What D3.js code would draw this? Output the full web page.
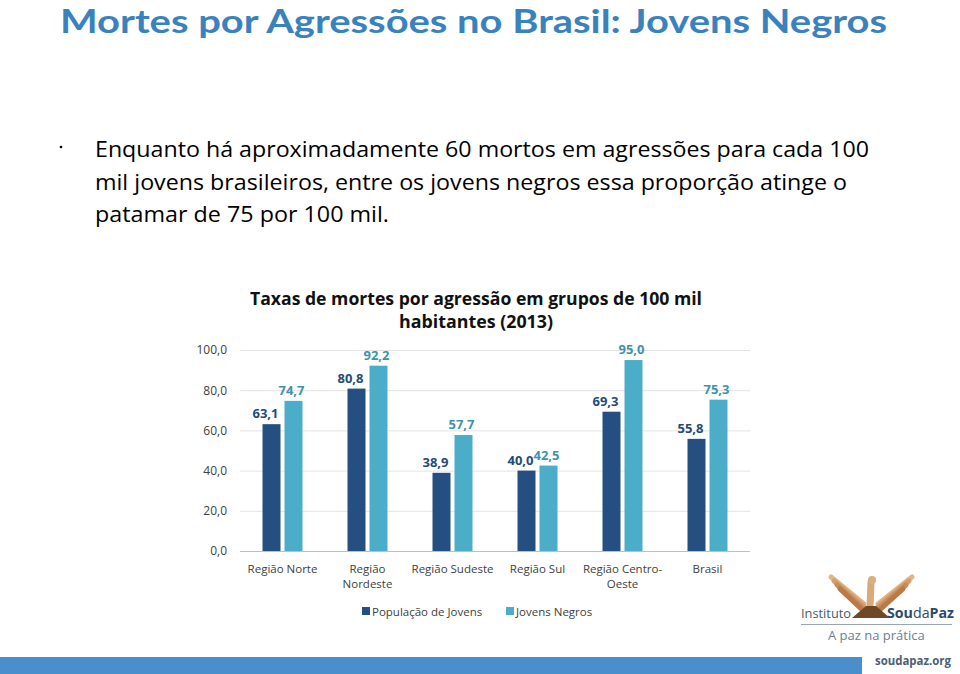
<!DOCTYPE html>
<html><head><meta charset="utf-8">
<script src="https://cdn.jsdelivr.net/npm/d3@7"></script>
<style>body{margin:0;background:#fff;}svg{display:block;}</style>
</head><body>
<script>
const categories = [["Região Norte"],["Região","Nordeste"],["Região Sudeste"],["Região Sul"],["Região Centro-","Oeste"],["Brasil"]];
const seriesNames = ["População de Jovens","Jovens Negros"];
const populacaoJovens = [63.1,80.8,38.9,40.0,69.3,55.8];
const jovensNegros = [74.7,92.2,57.7,42.5,95.0,75.3];
const yTicks = [0,20,40,60,80,100];

const W=960,H=674;
const svg=d3.select("body").append("svg").attr("width",W).attr("height",H);
const fmt=v=>v.toFixed(1).replace(".",",");

// Title
svg.append("text").attr("x",60).attr("y",33).attr("font-family","Lato, 'Open Sans', sans-serif")
 .attr("font-weight","bold").attr("font-size",32).attr("fill","#3a82be")
 .attr("textLength",827).attr("lengthAdjust","spacingAndGlyphs")
 .text("Mortes por Agressões no Brasil: Jovens Negros");

// Bullet text
svg.append("circle").attr("cx",61).attr("cy",147).attr("r",1.3).attr("fill","#000");
const lines=[["Enquanto há aproximadamente 60 mortos em agressões para cada 100",774],["mil jovens brasileiros, entre os jovens negros essa proporção atinge o",752],["patamar de 75 por 100 mil.",294]];
const baselines=[157,189.5,222];
lines.forEach((l,i)=>svg.append("text").attr("x",95).attr("y",baselines[i])
 .attr("font-family","'Open Sans', 'Noto Sans', sans-serif").attr("font-size",21).attr("fill","#000")
 .attr("textLength",l[1]).attr("lengthAdjust","spacingAndGlyphs").text(l[0]));

// Chart title
const ct=svg.append("text").attr("text-anchor","middle").attr("font-family","'Open Sans', sans-serif")
 .attr("font-weight","bold").attr("font-size",18).attr("fill","#111");
ct.append("tspan").attr("x",476).attr("y",305).attr("textLength",452).attr("lengthAdjust","spacingAndGlyphs").text("Taxas de mortes por agressão em grupos de 100 mil");
ct.append("tspan").attr("x",476).attr("y",327.5).attr("textLength",154).attr("lengthAdjust","spacingAndGlyphs").text("habitantes (2013)");

// Scales
const x=d3.scaleBand().domain(d3.range(categories.length)).range([240,750]);
const y=d3.scaleLinear().domain([0,100]).range([551,350]);
const colors=["#244f80","#4badc8"];
const labelColors=["#244a78","#3d93ad"];

// Grid
const g=svg.append("g");
g.selectAll("line.grid").data(yTicks).join("line").attr("x1",240).attr("x2",750)
 .attr("y1",d=>y(d)+0.5).attr("y2",d=>y(d)+0.5).attr("stroke",d=>d===0?"#bfbfbf":"#e3e3e3").attr("stroke-width",1);
// Y axis
const yAxis=d3.axisLeft(y).tickValues(yTicks).tickFormat(fmt).tickSize(0).tickPadding(0);
const ya=svg.append("g").attr("transform","translate(227,0)").call(yAxis);
ya.select(".domain").remove();
ya.selectAll("text").attr("font-family","'Open Sans', sans-serif").attr("font-size",12).attr("fill","#404040");

const data=[populacaoJovens,jovensNegros];
const bw=18, gap=4;
data.forEach((arr,s)=>{
 const off= s===0 ? -bw-gap/2 : gap/2;
 svg.append("g").selectAll("rect").data(arr).join("rect")
  .attr("x",(d,i)=>x(i)+x.bandwidth()/2+off).attr("width",bw)
  .attr("y",d=>y(d)).attr("height",d=>y(0)-y(d)).attr("fill",colors[s]);
});
// value labels
const labels=svg.append("g").attr("font-family","'Open Sans', sans-serif").attr("font-weight","bold").attr("font-size",12.5);
populacaoJovens.forEach((v,i)=>{
 const cx=x(i)+x.bandwidth()/2-bw/2-gap/2;
 labels.append("text").attr("x",cx-6).attr("y",y(v)-6).attr("text-anchor","middle").attr("fill",labelColors[0])
  .attr("textLength",26).attr("lengthAdjust","spacingAndGlyphs").text(fmt(v));
});
jovensNegros.forEach((v,i)=>{
 const cx=x(i)+x.bandwidth()/2+bw/2+gap/2;
 labels.append("text").attr("x",cx-2).attr("y",y(v)-6).attr("text-anchor","middle").attr("fill",labelColors[1])
  .attr("textLength",26).attr("lengthAdjust","spacingAndGlyphs").text(fmt(v));
});

// Category labels
const xa=svg.append("g").attr("font-family","'Open Sans', sans-serif").attr("font-size",11.5).attr("fill","#404040");
categories.forEach((c,i)=>{
 c.forEach((t,j)=>xa.append("text").attr("x",x(i)+x.bandwidth()/2).attr("y",573+j*15).attr("text-anchor","middle").text(t));
});

// Legend
const leg=svg.append("g").attr("font-family","'Open Sans', sans-serif").attr("font-size",11.5).attr("fill","#404040");
[[362,0],[506,1]].forEach(([lx,s])=>{
 leg.append("rect").attr("x",lx).attr("y",607).attr("width",8).attr("height",8).attr("fill",colors[s]);
 leg.append("text").attr("x",lx+10).attr("y",615.5).text(seriesNames[s]);
});

// Bottom bar
svg.append("rect").attr("x",0).attr("y",657).attr("width",862).attr("height",17).attr("fill","#4a8fcc");
svg.append("text").attr("x",875).attr("y",665).attr("font-family","'Open Sans', sans-serif").attr("font-weight","bold")
 .attr("font-size",12.5).attr("fill","#4d5d73").attr("textLength",76).attr("lengthAdjust","spacingAndGlyphs").text("soudapaz.org");

// Logo: stylized hands forming a dove
const logo=svg.append("g").attr("stroke-linecap","round");
const fingerCols=["#e2b587","#d49f6c","#c88c58","#b97a47"];
for(let k=0;k<4;k++){
 logo.append("line").attr("x1",831+k*3).attr("y1",577+k*4).attr("x2",864).attr("y2",604+k*2.5)
  .attr("stroke",fingerCols[k]).attr("stroke-width",5);
 logo.append("line").attr("x1",912-k*3).attr("y1",577+k*4).attr("x2",878).attr("y2",604+k*2.5)
  .attr("stroke",fingerCols[k]).attr("stroke-width",5);
}
logo.append("line").attr("x1",871).attr("y1",582).attr("x2",870).attr("y2",606).attr("stroke","#d9aa79").attr("stroke-width",7);
logo.append("circle").attr("cx",872).attr("cy",580).attr("r",4).attr("fill","#dcae7c");
logo.append("path").attr("d","M852,618 L866,606 L876,606 L890,618 Z").attr("fill","#6f4828");
logo.append("text").attr("x",801).attr("y",618).attr("font-family","'Open Sans', sans-serif").attr("font-size",13).attr("fill","#4a5a6a").attr("textLength",50).attr("lengthAdjust","spacingAndGlyphs").text("Instituto");
const sp=logo.append("text").attr("x",887).attr("y",618).attr("font-family","'Open Sans', sans-serif").attr("font-size",14).attr("fill","#2e4a6b").attr("textLength",67).attr("lengthAdjust","spacingAndGlyphs");
sp.append("tspan").attr("font-weight","bold").text("Sou");
sp.append("tspan").text("da");
sp.append("tspan").attr("font-weight","bold").text("Paz");
logo.append("line").attr("x1",801).attr("x2",952).attr("y1",624.5).attr("y2",624.5).attr("stroke","#9aa6b2").attr("stroke-linecap","butt");
logo.append("text").attr("x",828).attr("y",640).attr("font-family","'Open Sans', sans-serif").attr("font-size",13).attr("fill","#6b7f96").text("A paz na prática");
</script>
</body></html>
